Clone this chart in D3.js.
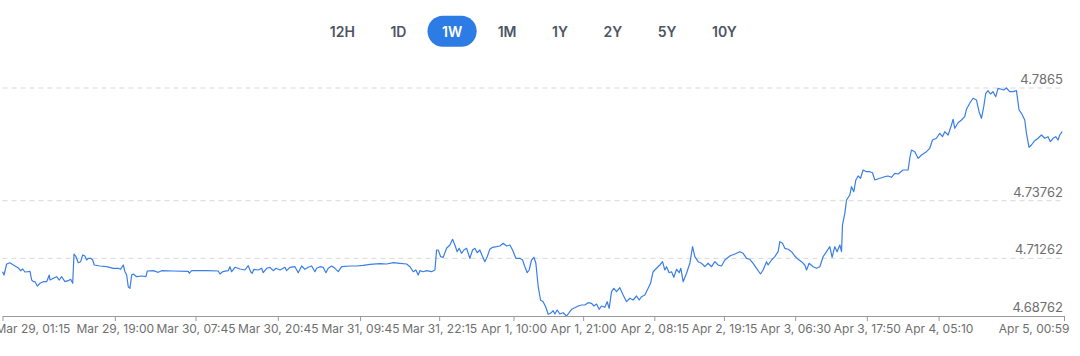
<!DOCTYPE html>
<html>
<head>
<meta charset="utf-8">
<script src="https://cdn.jsdelivr.net/npm/d3@7"></script>
<style>
  html, body { margin: 0; padding: 0; background: #fff; }
  svg { display: block; font-family: Inter, "Noto Sans", sans-serif; }
</style>
</head>
<body>
<svg id="chart" width="1080" height="356"></svg>
<script>
// ---------- data ----------
const ranges = ["12H", "1D", "1W", "1M", "1Y", "2Y", "5Y", "10Y"];
const activeRange = "1W";

// time offsets in hours from Mar 29, 01:15 (UTC)
const hours = [
  0.00,0.24,0.66,1.18,1.71,2.50,2.88,3.19,3.55,4.08,4.34,4.61,4.87,5.13,5.50,5.92,6.45,6.98,7.39,7.50,
  8.03,8.56,8.97,9.35,9.87,10.39,10.77,11.09,11.30,11.61,11.97,12.35,12.67,13.03,13.30,13.55,13.93,14.25,14.50,15.40,
  16.46,17.50,18.29,18.67,19.08,19.35,19.62,19.87,20.14,20.41,20.66,21.20,21.99,22.67,22.88,23.82,24.61,25.15,26.98,29.35,
  29.51,29.89,32.26,34.09,34.36,34.79,35.67,35.94,36.21,36.73,37.52,38.31,38.83,39.21,39.46,39.73,40.41,40.95,41.20,41.74,
  42.26,42.78,43.21,43.84,44.63,44.90,45.42,46.21,46.73,47.27,47.79,48.31,48.85,49.37,49.64,50.16,50.68,51.11,51.47,52.01,
  52.53,53.05,53.59,54.90,55.96,57.00,58.06,59.64,60.70,61.74,62.80,63.85,64.38,64.90,65.32,65.69,65.96,66.48,67.01,67.80,
  68.33,68.59,68.85,69.23,69.64,70.17,70.70,71.12,71.48,71.85,72.16,72.54,72.91,73.33,73.85,74.28,74.64,75.01,75.43,75.75,
  76.22,76.59,77.01,77.44,78.07,78.59,79.12,79.65,80.17,80.60,81.12,81.75,82.18,82.54,82.91,83.22,83.60,83.97,84.28,84.65,
  85.02,85.43,85.86,86.22,86.60,87.01,87.28,87.65,88.07,88.59,89.13,89.54,89.92,90.44,90.96,91.50,92.02,92.54,93.08,93.44,
  93.87,94.28,94.66,95.18,95.55,95.86,96.24,96.60,97.03,97.55,98.07,98.61,99.13,99.65,100.19,100.60,100.98,101.50,102.02,102.40,
  102.81,103.35,103.87,104.30,104.66,104.93,105.34,105.72,106.08,106.51,106.92,107.19,107.55,108.09,108.61,109.04,109.40,109.92,110.46,110.98,
  111.50,112.04,112.56,113.08,113.62,114.14,114.93,115.72,116.51,117.03,117.57,118.09,118.61,119.15,119.78,120.19,120.73,120.98,121.52,122.04,
  122.56,122.83,123.25,123.62,124.14,124.68,125.20,125.72,126.26,126.78,127.05,127.46,128.09,128.63,129.15,129.67,130.21,130.73,131.09,131.52,
  131.88,132.31,132.58,132.73,133.10,133.37,133.89,134.16,134.52,134.84,135.20,135.58,135.99,136.52,137.05,137.47,137.84,138.63,139.42,139.94,
  140.47,141.00,141.52,142.31,143.10,143.36,143.63,144.15,144.68,145.21,146.00,146.52,146.95,147.58,148.10,148.53,148.89,149.42,149.95,150.21,
  150.47,151.00,151.53,152.05,152.32,152.84,153.36,153.90,154.31,154.69,155.05,155.37,155.73,156.11,156.52,156.95,157.31,157.85,158.21,158.64,
  159.16,159.68,160.22,160.63,161.01,161.53,161.80,162.21,162.59,163.11,163.63,164.17,164.69,165.21,165.59,166.00,166.43,166.79,167.06,167.45
];

const rates = [
  4.70683,4.70540,4.71017,4.71074,4.70974,4.70844,4.70727,4.70800,4.70670,4.70683,4.70701,4.70323,4.70250,4.70250,4.70063,4.70180,4.70250,4.70250,4.70540,4.70323,
  4.70397,4.70466,4.70323,4.70466,4.70250,4.70293,4.70354,4.70180,4.71451,4.71334,4.71074,4.71117,4.71408,4.71364,4.71191,4.71264,4.71264,4.71191,4.70974,4.70931,
  4.70900,4.70831,4.70831,4.70787,4.70974,4.70683,4.70540,4.70033,4.69963,4.70540,4.70584,4.70466,4.70497,4.70466,4.70714,4.70727,4.70657,4.70727,4.70714,4.70701,
  4.70614,4.70727,4.70727,4.70714,4.70584,4.70683,4.70727,4.70900,4.70683,4.70874,4.70800,4.70757,4.70944,4.70683,4.70614,4.70787,4.70757,4.70831,4.70640,4.70831,
  4.70874,4.70727,4.70831,4.70757,4.70874,4.70727,4.70874,4.70900,4.70640,4.70931,4.70787,4.70874,4.70931,4.70683,4.70831,4.70900,4.70874,4.70640,4.70831,4.70931,
  4.70831,4.70683,4.70900,4.70931,4.70931,4.70961,4.71004,4.71030,4.71017,4.71074,4.71048,4.71017,4.70900,4.70683,4.70757,4.70540,4.70727,4.70683,4.70727,4.70683,
  4.70757,4.71624,4.71624,4.71334,4.71308,4.71698,4.71841,4.72089,4.71841,4.71551,4.71698,4.71481,4.71624,4.71698,4.71264,4.71624,4.71698,4.71507,4.71624,4.71408,
  4.71117,4.71334,4.71655,4.71742,4.71768,4.71798,4.71915,4.71798,4.71841,4.71624,4.71264,4.71264,4.71191,4.70900,4.70640,4.70757,4.71191,4.71308,4.71048,4.70033,
  4.69456,4.69382,4.69139,4.68836,4.68879,4.68992,4.68849,4.69022,4.68849,4.68905,4.68762,4.68905,4.69053,4.69122,4.69196,4.69239,4.69239,4.69339,4.69313,4.69196,
  4.69282,4.69053,4.69196,4.69139,4.69382,4.69096,4.69816,4.69963,4.69816,4.69989,4.69673,4.69382,4.69530,4.69456,4.69629,4.69456,4.69599,4.69673,4.69963,4.70180,
  4.70683,4.70831,4.70974,4.71117,4.70757,4.70900,4.70640,4.70683,4.70440,4.70787,4.70640,4.70831,4.70250,4.70614,4.71048,4.71768,4.71334,4.71117,4.71048,4.70900,
  4.71048,4.70900,4.71117,4.70974,4.70931,4.71191,4.71364,4.71451,4.71551,4.71481,4.71264,4.71221,4.71048,4.70831,4.70584,4.70757,4.71117,4.70974,4.71191,4.71334,
  4.71551,4.71984,4.71915,4.71698,4.71655,4.71551,4.71364,4.71221,4.71117,4.70974,4.70757,4.71048,4.70900,4.70831,4.70900,4.71334,4.71551,4.71768,4.71308,4.71768,
  4.71551,4.71841,4.71551,4.72709,4.73216,4.73793,4.74010,4.74370,4.74153,4.74660,4.74834,4.74734,4.75094,4.75020,4.75020,4.74977,4.74660,4.74734,4.74803,4.74834,
  4.74777,4.74951,4.74921,4.75094,4.75094,4.75601,4.75961,4.75888,4.75601,4.75745,4.75888,4.76035,4.76395,4.76469,4.76686,4.76538,4.76755,4.76612,4.77046,4.77293,
  4.76903,4.77145,4.77263,4.77406,4.77727,4.77987,4.78204,4.78130,4.77623,4.77336,4.77839,4.78421,4.78533,4.78390,4.78490,4.78273,4.78637,4.78594,4.78564,4.78650,
  4.78490,4.78490,4.78533,4.77696,4.77553,4.77263,4.76686,4.76079,4.76178,4.76365,4.76469,4.76612,4.76469,4.76538,4.76321,4.76469,4.76538,4.76395,4.76612,4.76755
];

const yTickValues = [4.68762, 4.71262, 4.73762, 4.7865];
const yTickLabels = ["4.68762", "4.71262", "4.73762", "4.7865"];

// x tick times (UTC) and their labels
const xTickTimes = [
  "2024-03-29T01:15Z","2024-03-29T19:00Z","2024-03-30T07:45Z","2024-03-30T20:45Z","2024-03-31T09:45Z",
  "2024-03-31T22:15Z","2024-04-01T10:00Z","2024-04-01T21:00Z","2024-04-02T08:15Z","2024-04-02T19:15Z",
  "2024-04-03T06:30Z","2024-04-03T17:50Z","2024-04-04T05:10Z","2024-04-05T00:59Z"
];
const xTickLabels = [
  "Mar 29, 01:15","Mar 29, 19:00","Mar 30, 07:45","Mar 30, 20:45","Mar 31, 09:45",
  "Mar 31, 22:15","Apr 1, 10:00","Apr 1, 21:00","Apr 2, 08:15","Apr 2, 19:15",
  "Apr 3, 06:30","Apr 3, 17:50","Apr 4, 05:10","Apr 5, 00:59"
];
const startTime = "2024-03-29T01:15Z";
const endTime = "2024-04-05T00:59Z";

// ---------- chart ----------
const svg = d3.select("#chart");
const W = 1080, H = 356;
const plot = { left: 2.5, right: 1064, top: 88, bottom: 316 };

const t0 = new Date(startTime);
const data = hours.map((h, i) => ({ t: new Date(+t0 + h * 3600e3), v: rates[i] }));

const x = d3.scaleUtc()
  .domain([new Date(startTime), new Date(endTime)])
  .range([plot.left, plot.right]);
const y = d3.scaleLinear()
  .domain([yTickValues[0], yTickValues[yTickValues.length - 1]])
  .range([plot.bottom, plot.top]);

// range selector buttons
const btnG = svg.append("g");
const btnPad = 14.5, btnGap = 6.5, btnH = 31, btnCy = 31.2;
const texts = ranges.map(r => {
  const t = btnG.append("text")
    .attr("font-size", 14).attr("font-weight", 600)
    .attr("text-anchor", "middle").attr("dominant-baseline", "central")
    .attr("y", btnCy).text(r);
  return { r, t, w: t.node().getComputedTextLength() };
});
const totalW = d3.sum(texts, d => d.w + 2 * btnPad) + btnGap * (texts.length - 1);
let cx = (plot.left + plot.right) / 2 - totalW / 2;
texts.forEach(d => {
  const bw = d.w + 2 * btnPad;
  const c = cx + bw / 2;
  if (d.r === activeRange) {
    btnG.insert("rect", "text")
      .attr("x", c - bw / 2).attr("y", btnCy - btnH / 2)
      .attr("width", bw).attr("height", btnH)
      .attr("rx", btnH / 2).attr("fill", "#2d7be5");
  }
  d.t.attr("x", c).attr("fill", d.r === activeRange ? "#ffffff" : "#4d5563");
  cx += bw + btnGap;
});

// gridlines (skip the baseline)
svg.append("g").selectAll("line")
  .data(yTickValues.slice(1))
  .join("line")
  .attr("x1", plot.left).attr("x2", plot.right)
  .attr("y1", d => y(d)).attr("y2", d => y(d))
  .attr("stroke", "#d9d9d9").attr("stroke-width", 1)
  .attr("stroke-dasharray", "5,4");

// y labels
svg.append("g").selectAll("text")
  .data(yTickValues)
  .join("text")
  .attr("x", plot.right - 1).attr("y", d => y(d) - 4)
  .attr("text-anchor", "end")
  .attr("font-size", 13).attr("fill", "#6e6e6e")
  .text((d, i) => yTickLabels[i]);

// line
svg.append("path")
  .datum(data)
  .attr("fill", "none")
  .attr("stroke", "#3a7ee8")
  .attr("stroke-width", 1.2)
  .attr("stroke-linejoin", "round")
  .attr("d", d3.line().x(d => x(d.t)).y(d => y(d.v)));

// x axis
const xAxis = d3.axisBottom(x)
  .tickValues(xTickTimes.map(s => new Date(s)))
  .tickSize(5).tickSizeOuter(0)
  .tickFormat((d, i) => xTickLabels[i]);
const ax = svg.append("g")
  .attr("transform", `translate(0,${plot.bottom})`)
  .call(xAxis);
ax.select(".domain").attr("stroke", "#9a9a9a");
ax.selectAll(".tick line").attr("stroke", "#9a9a9a");
ax.selectAll(".tick text")
  .attr("font-family", "Inter, 'Noto Sans', sans-serif")
  .attr("font-size", 12).attr("fill", "#6e6e6e").attr("y", 8);
const tickTexts = ax.selectAll(".tick text").nodes();
d3.select(tickTexts[0]).attr("text-anchor", "start").attr("x", -7.5);
d3.select(tickTexts[tickTexts.length - 1]).attr("text-anchor", "end").attr("x", 5);
</script>
</body>
</html>
